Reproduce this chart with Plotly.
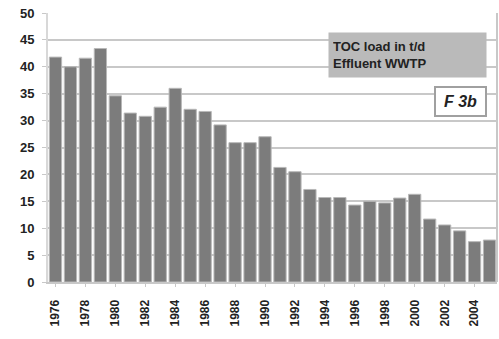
import plotly.graph_objects as go

years = list(range(1976, 2006))
toc_load = [41.8, 40.0, 41.6, 43.4, 34.6, 31.4, 30.8, 32.5, 36.0, 32.1, 31.7, 29.2, 25.9, 25.9,
            27.0, 21.3, 20.5, 17.2, 15.7, 15.7, 14.3, 15.0, 14.7, 15.6, 16.3, 11.7, 10.6, 9.5, 7.5, 7.8]
tick_years = list(range(1976, 2006, 2))
y_ticks = list(range(0, 55, 5))

fig = go.Figure()
fig.add_trace(go.Bar(
    x=years, y=toc_load,
    marker=dict(color="#7c7c7c", line=dict(color="#b8b8b8", width=1)),
    width=0.82,
))

fig.update_layout(
    width=499, height=339,
    margin=dict(l=48, r=2, t=13, b=57),
    paper_bgcolor="white", plot_bgcolor="white",
    showlegend=False,
    font=dict(family="Arial, Liberation Sans, sans-serif", color="#222"),
    xaxis=dict(
        range=[1975.5, 2005.5],
        tickvals=tick_years, ticktext=[str(y) for y in tick_years],
        tickangle=-90,
        tickfont=dict(size=12, weight="bold", color="#222"),
        showgrid=False,
        showline=True, linecolor="#c8c8c8", linewidth=2,
        ticks="outside", ticklen=3, tickcolor="#c8c8c8",
        ticklabelstandoff=8,
        mirror=False,
    ),
    yaxis=dict(
        range=[0, 50],
        tickvals=y_ticks,
        tickfont=dict(size=13, weight="bold", color="#222"),
        showgrid=True, gridcolor="#c8c8c8", gridwidth=2,
        showline=True, linecolor="#d8d8d8", linewidth=2,
        ticks="outside", ticklen=4, tickcolor="#c8c8c8",
        ticklabelstandoff=5,
        zeroline=False,
    ),
)

fig.add_shape(type="line", xref="paper", yref="paper", x0=1, x1=1, y0=0, y1=1,
              line=dict(color="#c8c8c8", width=2))

fig.add_annotation(
    xref="paper", yref="paper", x=0.978, y=0.76, xanchor="right", yanchor="bottom",
    text="<b>TOC load in t/d<br>Effluent WWTP</b>",
    showarrow=False, align="left",
    font=dict(size=13, color="#222"),
    bgcolor="#bababa", borderpad=4, width=149, height=36,
)
fig.add_annotation(
    xref="paper", yref="paper", x=0.978, y=0.613, xanchor="right", yanchor="bottom",
    text="<b><i>F 3b</i></b>",
    showarrow=False,
    font=dict(size=16, color="#222"),
    bgcolor="white", bordercolor="#a0a0a0", borderwidth=2, borderpad=1,
    width=47, height=25,
)

fig.write_html("out.html")
